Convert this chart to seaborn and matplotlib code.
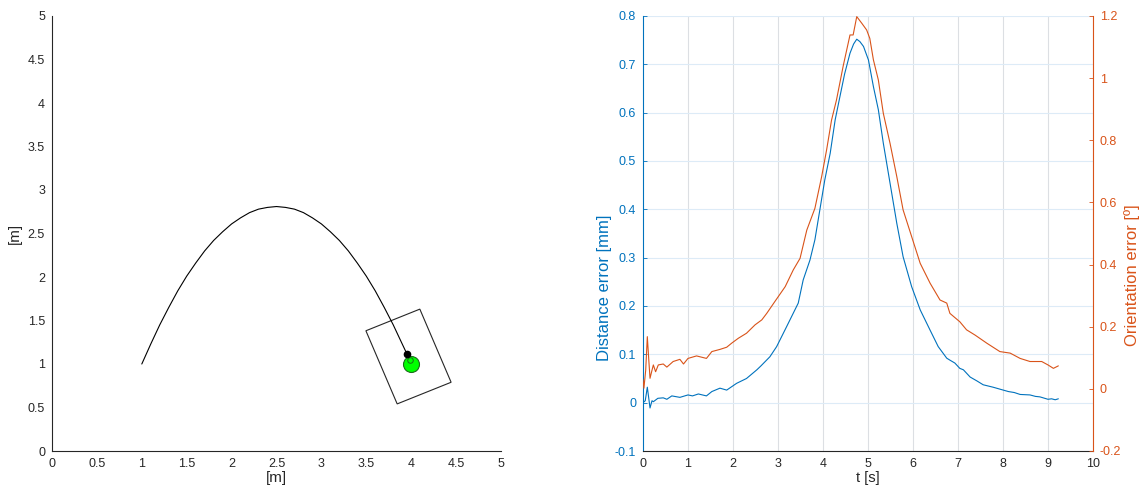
import numpy as np
import pandas as pd
import matplotlib
matplotlib.use("Agg")
import matplotlib.pyplot as plt
from matplotlib.patches import Rectangle
from matplotlib.ticker import FormatStrFormatter, MultipleLocator
import seaborn as sns

# ---- trajectory in the plane [m] ----
path_x = [1.0, 1.1, 1.2, 1.3, 1.4, 1.5, 1.6, 1.7, 1.8, 1.9, 2.0, 2.1, 2.2, 2.3, 2.4,
          2.5, 2.6, 2.7, 2.8, 2.9, 3.0, 3.1, 3.2, 3.3, 3.4, 3.5, 3.6, 3.7, 3.8, 3.9, 3.955]
path_y = [1.00, 1.23, 1.45, 1.65, 1.84, 2.01, 2.16, 2.30, 2.42, 2.52, 2.61, 2.68, 2.74,
          2.78, 2.80, 2.81, 2.80, 2.78, 2.74, 2.68, 2.61, 2.52, 2.42, 2.30, 2.16, 2.01,
          1.84, 1.65, 1.45, 1.23, 1.11]

# robot pose and footprint
robot_x, robot_y, robot_heading_deg = 4.0, 1.0, 112.5
footprint_center = (3.97, 1.086)
footprint_width, footprint_length = 0.65, 0.91

# ---- tracking errors ----
t_dist = [0.0, 0.05, 0.096, 0.156, 0.2, 0.23, 0.33, 0.45, 0.53, 0.64, 0.82, 1.0, 1.1, 1.23,
          1.41, 1.53, 1.71, 1.86, 2.08, 2.30, 2.53, 2.62, 2.82, 2.97, 3.19, 3.45, 3.56, 3.71,
          3.82, 3.93, 4.04, 4.16, 4.27, 4.36, 4.48, 4.6, 4.68, 4.75, 4.82, 4.9, 5.01, 5.12,
          5.23, 5.34, 5.49, 5.64, 5.78, 5.97, 6.16, 6.38, 6.56, 6.75, 6.82, 6.93, 7.04,
          7.12, 7.27, 7.42, 7.56, 7.78, 7.93, 8.12, 8.25, 8.38, 8.6, 8.72, 8.82, 9.0, 9.08,
          9.16, 9.23]
dist_err = [0.000, 0.004, 0.032, -0.011, 0.004, 0.002, 0.009, 0.010, 0.007, 0.014, 0.011,
            0.016, 0.014, 0.018, 0.014, 0.023, 0.030, 0.026, 0.040, 0.050, 0.068, 0.076,
            0.095, 0.116, 0.157, 0.206, 0.254, 0.295, 0.337, 0.399, 0.461, 0.516, 0.585,
            0.626, 0.680, 0.723, 0.742, 0.752, 0.747, 0.737, 0.709, 0.654, 0.606, 0.537,
            0.454, 0.371, 0.302, 0.240, 0.192, 0.150, 0.116, 0.092, 0.088, 0.082, 0.071,
            0.068, 0.053, 0.045, 0.037, 0.032, 0.028, 0.023, 0.021, 0.017, 0.016, 0.013,
            0.012, 0.007, 0.008, 0.006, 0.008]

t_orient = [0.0, 0.02, 0.06, 0.096, 0.13, 0.156, 0.2, 0.23, 0.28, 0.34, 0.45, 0.53, 0.67,
            0.82, 0.9, 1.0, 1.19, 1.41, 1.53, 1.71, 1.86, 1.97, 2.12, 2.30, 2.49, 2.64,
            2.75, 2.93, 3.16, 3.34, 3.49, 3.64, 3.82, 3.97, 4.08, 4.19, 4.30, 4.45, 4.6,
            4.67, 4.75, 4.86, 4.97, 5.04, 5.12, 5.23, 5.34, 5.49, 5.64, 5.78, 5.97, 6.16,
            6.38, 6.6, 6.75, 6.82, 7.04, 7.19, 7.38, 7.64, 7.93, 8.16, 8.38, 8.6, 8.86,
            9.0, 9.12, 9.23]
orient_err = [0.030, 0.002, 0.060, 0.168, 0.090, 0.034, 0.060, 0.077, 0.055, 0.077, 0.080,
              0.070, 0.088, 0.095, 0.080, 0.098, 0.106, 0.098, 0.120, 0.127, 0.134, 0.147,
              0.163, 0.179, 0.206, 0.222, 0.243, 0.281, 0.329, 0.383, 0.420, 0.511, 0.581,
              0.683, 0.769, 0.865, 0.930, 1.040, 1.139, 1.139, 1.198, 1.177, 1.155, 1.128,
              1.059, 0.994, 0.887, 0.790, 0.683, 0.576, 0.490, 0.404, 0.340, 0.286, 0.276,
              0.243, 0.216, 0.190, 0.173, 0.147, 0.120, 0.115, 0.098, 0.088, 0.088, 0.077,
              0.066, 0.074]

BLUE = "#0072BD"
ORANGE = "#D95319"
DARK = "#262626"

sns.set_style("white")
plt.rcParams["font.family"] = ["Liberation Sans", "DejaVu Sans"]
plt.rcParams["font.size"] = 9

fig = plt.figure(figsize=(11.41, 4.92), dpi=100)

# ================= left: path in the plane =================
ax1 = fig.add_axes([52 / 1141, 1 - 451 / 492, 449 / 1141, 435 / 492])
path_df = pd.DataFrame({"x": path_x, "y": path_y})
sns.lineplot(data=path_df, x="x", y="y", sort=False, color="black", lw=0.8, ax=ax1)

# footprint rectangle, rotated with the heading
rect = Rectangle((footprint_center[0] - footprint_width / 2,
                  footprint_center[1] - footprint_length / 2),
                 footprint_width, footprint_length,
                 angle=robot_heading_deg - 90, rotation_point="center",
                 fill=False, edgecolor=DARK, lw=0.8)
ax1.add_patch(rect)

# robot body, wheel-centre marker and heading marker
h = np.deg2rad(robot_heading_deg)
ax1.plot([robot_x], [robot_y], "o", ms=11.5, mfc="#00FF00", mec="#1a6d1a", mew=0.8, zorder=4)
ax1.plot([robot_x + 0.045 * np.cos(h)], [robot_y + 0.045 * np.sin(h)], "o",
         ms=4, mfc="#00FF00", mec="#1a6d1a", mew=0.7, zorder=5)
ax1.plot([robot_x + 0.12 * np.cos(h)], [robot_y + 0.12 * np.sin(h)], "o",
         ms=4.5, color="black", zorder=6)

ax1.set_xlim(0, 5)
ax1.set_ylim(0, 5)
ax1.xaxis.set_major_locator(MultipleLocator(0.5))
ax1.yaxis.set_major_locator(MultipleLocator(0.5))
ax1.xaxis.set_major_formatter(FormatStrFormatter("%g"))
ax1.yaxis.set_major_formatter(FormatStrFormatter("%g"))
ax1.set_xlabel("[m]", color=DARK, labelpad=1, fontsize=11)
ax1.set_ylabel("[m]", color=DARK, labelpad=4, fontsize=11)
for s in ["top", "right"]:
    ax1.spines[s].set_visible(False)
for s in ["left", "bottom"]:
    ax1.spines[s].set_color(DARK)
    ax1.spines[s].set_linewidth(0.8)
ax1.tick_params(direction="in", length=3, width=0.6, colors=DARK, labelsize=9, pad=5)

# ================= right: tracking errors =================
ax2 = fig.add_axes([643 / 1141, 1 - 451 / 492, 450 / 1141, 435 / 492])
ax3 = ax2.twinx()

dist_df = pd.DataFrame({"t": t_dist, "e": dist_err})
orient_df = pd.DataFrame({"t": t_orient, "e": orient_err})
sns.lineplot(data=dist_df, x="t", y="e", sort=False, color=BLUE, lw=0.8, ax=ax2)
sns.lineplot(data=orient_df, x="t", y="e", sort=False, color=ORANGE, lw=0.8, ax=ax3)

ax2.set_xlim(0, 10)
ax2.set_ylim(-0.1, 0.8)
ax3.set_ylim(-0.2, 1.2)
ax2.xaxis.set_major_locator(MultipleLocator(1))
ax2.yaxis.set_major_locator(MultipleLocator(0.1))
ax3.yaxis.set_major_locator(MultipleLocator(0.2))
for a in (ax2, ax3):
    a.yaxis.set_major_formatter(FormatStrFormatter("%g"))
ax2.xaxis.set_major_formatter(FormatStrFormatter("%g"))

# grid: vertical lines neutral, horizontal lines tinted with the left axis
ax2.grid(False)
ax3.grid(False)
for xv in range(1, 11):
    ax2.axvline(xv, color="#dcdfe3", lw=0.8, zorder=0)
for yv in np.arange(-0.1, 0.81, 0.1):
    ax2.axhline(yv, color="#ddebf7", lw=0.8, zorder=0)

ax2.set_xlabel("t [s]", color=DARK, labelpad=1, fontsize=10.5)
ax2.set_ylabel("Distance error [mm]", color=BLUE, fontsize=12)
ax3.set_ylabel("Orientation error [º]", color=ORANGE, fontsize=12)
ax2.yaxis.set_label_coords(-0.068, 0.375)
ax3.yaxis.set_label_coords(1.07, 0.405)

for a in (ax2, ax3):
    a.spines["top"].set_visible(False)
ax2.spines["right"].set_visible(False)
ax3.spines["left"].set_visible(False)
ax3.spines["bottom"].set_visible(False)
ax2.spines["left"].set_color(BLUE)
ax3.spines["right"].set_color(ORANGE)
ax2.spines["bottom"].set_color(DARK)
for s in ax2.spines.values():
    s.set_linewidth(0.8)
ax3.spines["right"].set_linewidth(0.8)

ax2.tick_params(axis="x", direction="in", length=3, width=0.6, colors=DARK, labelsize=9, pad=5)
ax2.tick_params(axis="y", direction="in", length=3, width=0.6, colors=BLUE, labelsize=9, pad=5)
ax3.tick_params(axis="y", direction="in", length=3, width=0.6, colors=ORANGE, labelsize=9, pad=5)

fig.savefig("out.png", dpi=100)
